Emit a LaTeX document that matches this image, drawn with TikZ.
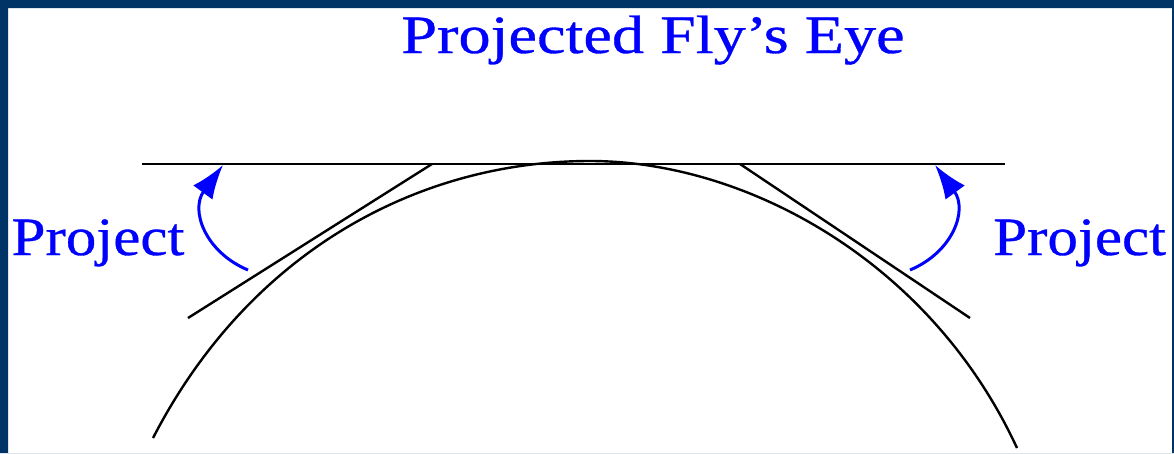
\documentclass[tikz,border=0pt]{standalone}
\usepackage{fontspec}
\newfontfamily\slidefont[FakeStretch=1.13,FakeBold=0.6]{Liberation Serif}
\newfontfamily\titlefont[FakeStretch=1.19,FakeBold=0.6]{Liberation Serif}
\usetikzlibrary{arrows.meta}
\definecolor{slidenavy}{RGB}{0,51,102}
\definecolor{slideblue}{RGB}{0,0,255}

\begin{document}
\begin{tikzpicture}[x=1pt,y=-1pt,
  blue text/.style={slideblue,inner sep=0pt,font=\slidefont\fontsize{54}{60}\selectfont},
  title text/.style={blue text,font=\titlefont\fontsize{54}{60}\selectfont},
  project arrow/.style={slideblue,line width=3pt,-{Latex[length=34pt,width=24pt]}},
  eye line/.style={black,line width=2.4pt}]
\useasboundingbox (0,0) rectangle (1174,453);
% labels
\node[title text,anchor=base] (title) at (653,53) {Projected Fly’s Eye};
\node[blue text,anchor=base] (proj left) at (98,255) {Project};
\node[blue text,anchor=base west] (proj right) at (993,255) {Project};
% projection plane
\coordinate (plane west) at (142,164);
\coordinate (plane east) at (1005,164);
\draw[line width=1.7pt] (plane west) -- (plane east);
% the eye
\coordinate (eye left) at (153,438);
\coordinate (eye top) at (590,161);
\coordinate (eye right) at (1017,448);
\draw[eye line] (eye left) .. controls (250,250) and (420,161) .. (eye top)
  .. controls (745,161) and (930,260) .. (eye right);
% tangent facets
\coordinate (facet left a) at (188,318);
\coordinate (facet left b) at (432,164);
\coordinate (facet right a) at (740,164);
\coordinate (facet right b) at (970,318);
\draw[eye line] (facet left a) -- (facet left b);
\draw[eye line] (facet right a) -- (facet right b);
% projection arrows
\coordinate (arrow left from) at (248,270);
\coordinate (arrow left to) at (223,165);
\coordinate (arrow right from) at (910,270);
\coordinate (arrow right to) at (935,165);
\draw[project arrow] (arrow left from) .. controls (205,252) and (190,210) .. (arrow left to);
\draw[project arrow] (arrow right from) .. controls (953,252) and (968,210) .. (arrow right to);
% frame
\fill[slidenavy,even odd rule] (0,0) rectangle (1174,453) (8,8) rectangle (1172,453);
\end{tikzpicture}
\end{document}
